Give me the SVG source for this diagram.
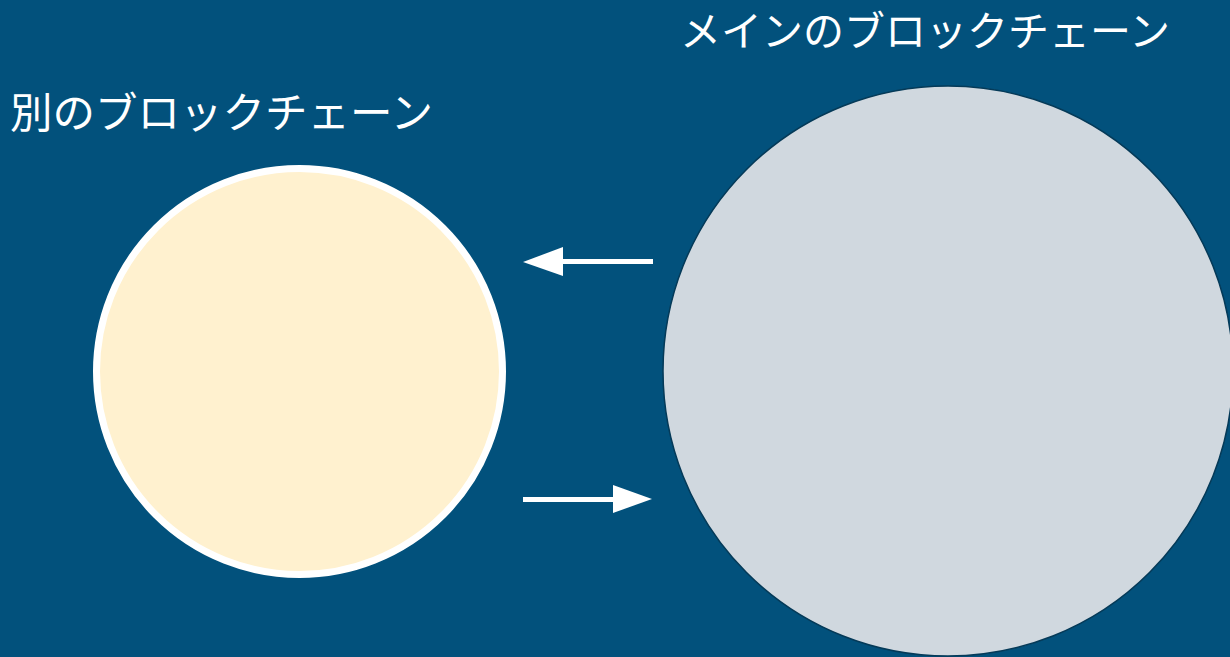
<svg xmlns="http://www.w3.org/2000/svg" width="1230" height="657" viewBox="0 0 1230 657">
<defs>
<style>
.lbl{font-family:"Noto Sans CJK JP","Noto Sans",sans-serif;fill:#ffffff;}
.conn{stroke:#ffffff;stroke-width:5;fill:none;}
.head{fill:#ffffff;}
</style>
</defs>
<rect width="1230" height="657" fill="#02517C"/>
<g id="main-chain">
<circle cx="948" cy="371" r="285" fill="#D0D8DF" stroke="#053a58" stroke-width="1.5"/>
<text class="lbl" x="680" y="46" font-size="41">メインのブロックチェーン</text>
</g>
<g id="other-chain">
<circle cx="299.5" cy="371.5" r="203" fill="#FFF1CF" stroke="#ffffff" stroke-width="7"/>
<text class="lbl" x="10" y="128" font-size="42.5">別のブロックチェーン</text>
</g>
<g id="connectors">
<line class="conn" x1="562" y1="261.5" x2="653" y2="261.5"/>
<polygon class="head" points="523,262 563,247 563,276"/>
<line class="conn" x1="523" y1="499.5" x2="614" y2="499.5"/>
<polygon class="head" points="652,499 613,485 613,513"/>
</g>
</svg>
